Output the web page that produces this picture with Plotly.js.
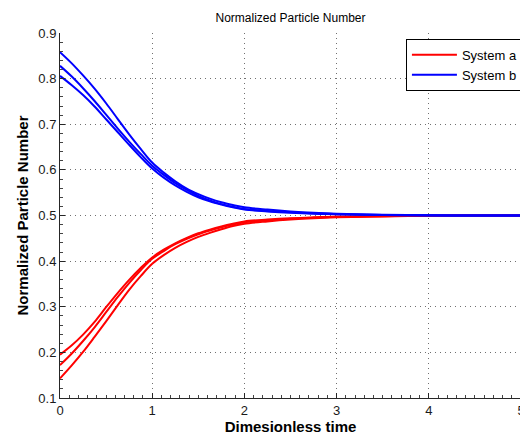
<!DOCTYPE html>
<html>
<head>
<meta charset="utf-8">
<script src="https://cdn.plot.ly/plotly-3.0.1.min.js"></script>
<style>
  html, body { margin: 0; padding: 0; overflow: hidden; background: #fff; }
  #chart { width: 524px; height: 439px; }
</style>
</head>
<body>
<div id="chart"></div>
<script>
// Dimensionless time samples
const time = [0, 0.125, 0.25, 0.375, 0.5, 0.625, 0.75, 0.875, 1,
              1.125, 1.25, 1.375, 1.5, 1.625, 1.75, 1.875, 2,
              2.25, 2.5, 2.75, 3, 3.5, 4, 4.5, 5];

// System a: normalized particle number, three runs (rising towards 0.5)
const systemA1 = [0.195, 0.215, 0.239, 0.267, 0.299, 0.330, 0.359, 0.385, 0.408,
                  0.425, 0.439, 0.451, 0.461, 0.469, 0.476, 0.482, 0.487,
                  0.491, 0.494, 0.496, 0.4975, 0.499, 0.4998, 0.500, 0.500];
const systemA2 = [0.172, 0.197, 0.225, 0.255, 0.288, 0.321, 0.352, 0.380, 0.405,
                  0.422, 0.437, 0.449, 0.459, 0.467, 0.474, 0.480, 0.485,
                  0.489, 0.493, 0.495, 0.497, 0.4985, 0.4997, 0.500, 0.500];
const systemA3 = [0.143, 0.171, 0.201, 0.234, 0.268, 0.303, 0.337, 0.367, 0.394,
                  0.413, 0.429, 0.442, 0.453, 0.462, 0.470, 0.477, 0.482,
                  0.487, 0.491, 0.494, 0.496, 0.498, 0.4995, 0.500, 0.500];

// System b: normalized particle number, three runs (falling towards 0.5)
const systemB1 = [0.858, 0.834, 0.807, 0.778, 0.746, 0.712, 0.678, 0.646, 0.616,
                  0.594, 0.575, 0.559, 0.547, 0.537, 0.529, 0.523, 0.518,
                  0.513, 0.509, 0.506, 0.504, 0.5015, 0.5005, 0.500, 0.500];
const systemB2 = [0.828, 0.805, 0.779, 0.751, 0.721, 0.691, 0.662, 0.635, 0.609,
                  0.589, 0.571, 0.556, 0.543, 0.533, 0.525, 0.519, 0.514,
                  0.510, 0.507, 0.505, 0.503, 0.501, 0.5003, 0.500, 0.500];
const systemB3 = [0.806, 0.786, 0.764, 0.739, 0.711, 0.683, 0.655, 0.628, 0.603,
                  0.583, 0.566, 0.552, 0.540, 0.531, 0.524, 0.518, 0.513,
                  0.509, 0.506, 0.504, 0.503, 0.501, 0.5002, 0.500, 0.500];

const seriesNames = ['System a', 'System b'];
const xTickValues = [0, 1, 2, 3, 4, 5];
const xTickLabels = ['0', '1', '2', '3', '4', '5'];
const red = '#ff0000';
const blue = '#0000ff';

function curve(y, name, color, showInLegend) {
  return {
    x: time, y: y, name: name, type: 'scatter', mode: 'lines',
    line: { color: color, width: 2, shape: 'spline', smoothing: 1 },
    legendgroup: name, showlegend: showInLegend, hoverinfo: 'x+y'
  };
}

const traces = [
  curve(systemA1, seriesNames[0], red, true),
  curve(systemA2, seriesNames[0], red, false),
  curve(systemA3, seriesNames[0], red, false),
  curve(systemB1, seriesNames[1], blue, true),
  curve(systemB2, seriesNames[1], blue, false),
  curve(systemB3, seriesNames[1], blue, false)
];

const fontFamily = 'Liberation Sans, Arial, Helvetica, sans-serif';
const axisColor = '#262626';

const axisCommon = {
  showline: true, linecolor: axisColor, linewidth: 1, mirror: false,
  ticks: 'inside', ticklen: 5, tickcolor: axisColor, tickwidth: 1,
  showgrid: true, gridcolor: '#707070', gridwidth: 1, griddash: '1px,4px',
  zeroline: false, automargin: false, ticklabeloverflow: 'allow',
  tickfont: { family: fontFamily, size: 13, color: '#1a1a1a' }
};

const layout = {
  width: 524, height: 439,
  margin: { l: 60, r: 2, t: 33, b: 41 },
  paper_bgcolor: '#ffffff', plot_bgcolor: '#ffffff',
  font: { family: fontFamily, color: '#000' },
  title: {
    text: 'Normalized Particle Number',
    font: { family: fontFamily, size: 12, color: '#000' },
    x: 0.5, xref: 'paper', xanchor: 'center', y: 1, yref: 'paper', yanchor: 'bottom',
    pad: { b: 11 }
  },
  xaxis: Object.assign({}, axisCommon, {
    range: [0, 5.0001], tickmode: 'array', tickvals: xTickValues, ticktext: xTickLabels,
    minor: { ticks: 'inside', ticklen: 3, dtick: 0.1, tickcolor: '#444', showgrid: false },
    title: { text: '<b>Dimesionless time</b>', font: { family: fontFamily, size: 15, color: '#000' }, standoff: 2 }
  }),
  yaxis: Object.assign({}, axisCommon, {
    range: [0.1, 0.9], tickmode: 'linear', tick0: 0.1, dtick: 0.1, tickformat: '.1f',
    minor: { ticks: 'inside', ticklen: 3, dtick: 0.02, tickcolor: '#444', showgrid: false },
    title: { text: '<b>Normalized Particle Number</b>', font: { family: fontFamily, size: 15, color: '#000' }, standoff: 6 }
  }),
  showlegend: true,
  legend: {
    x: 1.002, xanchor: 'right', y: 0.984, yanchor: 'top',
    bgcolor: '#ffffff', bordercolor: '#000000', borderwidth: 1,
    font: { family: fontFamily, size: 13, color: '#000' },
    tracegroupgap: 0, itemwidth: 45
  }
};

Plotly.newPlot('chart', traces, layout, { staticPlot: true, displayModeBar: false });
</script>
</body>
</html>
